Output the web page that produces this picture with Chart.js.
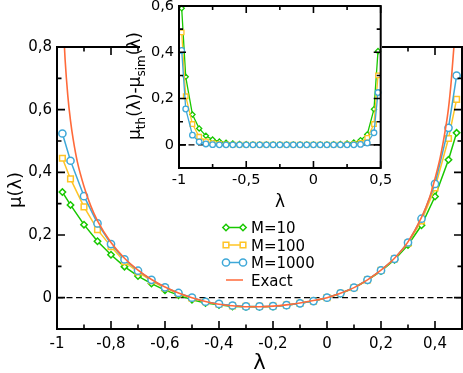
<!DOCTYPE html>
<html><head><meta charset="utf-8">
<script src="https://cdn.jsdelivr.net/npm/chart.js@4.4.1/dist/chart.umd.min.js"></script>
<style>
html,body{margin:0;padding:0;background:#fff;}
#wrap{position:relative;width:463px;height:373px;overflow:hidden;background:#fff;}
#main{position:absolute;left:0;top:0;}
#inset{position:absolute;left:120px;top:0;}
</style></head><body>
<div id="wrap"><canvas id="main" width="463" height="373"></canvas><canvas id="inset" width="280" height="215"></canvas></div>
<script>
// ---------------- data ----------------
const lambdas = [-0.98,-0.95,-0.90,-0.85,-0.80,-0.75,-0.70,-0.65,-0.60,-0.55,-0.50,-0.45,-0.40,-0.35,-0.30,-0.25,-0.20,-0.15,-0.10,-0.05,0,0.05,0.10,0.15,0.20,0.25,0.30,0.35,0.40,0.45,0.48];
const muM10   = [0.337,0.296,0.233,0.180,0.137,0.099,0.069,0.045,0.024,0.008,-0.007,-0.017,-0.023,-0.028,-0.029,-0.029,-0.028,-0.024,-0.018,-0.011,0,0.013,0.031,0.056,0.085,0.121,0.168,0.231,0.323,0.440,0.526];
const muM100  = [0.445,0.379,0.290,0.217,0.163,0.115,0.082,0.054,0.031,0.013,-0.002,-0.013,-0.021,-0.026,-0.028,-0.028,-0.027,-0.024,-0.018,-0.011,0,0.014,0.032,0.057,0.087,0.124,0.174,0.245,0.350,0.508,0.633];
const muM1000 = [0.524,0.437,0.324,0.237,0.171,0.122,0.086,0.057,0.033,0.015,0.000,-0.013,-0.020,-0.025,-0.028,-0.028,-0.027,-0.024,-0.018,-0.011,0,0.014,0.032,0.057,0.087,0.124,0.176,0.252,0.363,0.542,0.709];
const exactLambda = [-0.976,-0.97,-0.96,-0.95,-0.94,-0.925,-0.90,-0.875,-0.85,-0.80,-0.75,-0.70,-0.65,-0.60,-0.55,-0.50,-0.45,-0.40,-0.35,-0.30,-0.25,-0.20,-0.15,-0.10,-0.05,0,0.05,0.10,0.15,0.20,0.25,0.30,0.35,0.38,0.40,0.42,0.44,0.45,0.46,0.47,0.476];
const exactMu     = [0.86,0.76,0.645,0.565,0.505,0.435,0.355,0.293,0.245,0.176,0.126,0.088,0.058,0.034,0.015,0.0,-0.012,-0.021,-0.026,-0.029,-0.029,-0.027,-0.023,-0.017,-0.009,0,0.014,0.032,0.057,0.088,0.126,0.178,0.256,0.32,0.38,0.45,0.545,0.605,0.69,0.80,0.88];
const diffM10   = [0.590,0.294,0.131,0.071,0.039,0.023,0.014,0.009,0.006,0.004,0.003,0.002,0.002,0.002,0.002,0.002,0.002,0.002,0.002,0.002,0.002,0.002,0.002,0.003,0.004,0.006,0.010,0.020,0.045,0.154,0.405];
const diffM100  = [0.486,0.210,0.090,0.035,0.015,0.007,0.004,0.002,0.001,0.001,0.001,0.001,0.001,0.001,0.001,0.001,0.001,0.001,0.001,0.001,0.001,0.001,0.001,0.001,0.001,0.002,0.003,0.008,0.030,0.090,0.300];
const diffM1000 = [0.408,0.155,0.042,0.013,0.004,0.001,0,0,0,0,0,0,0,0,0,0,0,0,0,0,0,0,0,0,0,0,0,0.002,0.008,0.052,0.226];
const seriesNames = ['M=10','M=100','M=1000','Exact'];
const mainXTicks = [-1,-0.8,-0.6,-0.4,-0.2,0,0.2,0.4];
const mainXMinor = [-0.9,-0.7,-0.5,-0.3,-0.1,0.1,0.3];
const mainYTicks = [0,0.2,0.4,0.6,0.8];
const mainYMinor = [0.1,0.3,0.5,0.7];
const insetXTicks = [-1,-0.5,0,0.5];
const insetXMinor = [-0.75,-0.25,0.25];
const insetYTicks = [0,0.2,0.4,0.6];
const insetYMinor = [0.1,0.3,0.5];

// ---------------- styles ----------------
const COL = {g:'#18c800', y:'#ffc425', b:'#3ea8d8', o:'#ff6a3a'};
const FONT = 'DejaVu Sans';
const fmt = v => Math.abs(v) < 1e-9 ? '0' : String(Math.round(v*100)/100).replace('.', ',');
const pts = (xs, ys) => xs.map((x,i) => ({x, y: ys[i]}));

function mark(ctx, style, x, y, r, color, lw) {
  ctx.save(); ctx.fillStyle = '#fff'; ctx.strokeStyle = color; ctx.lineWidth = lw; ctx.beginPath();
  if (style === 'circle') ctx.arc(x, y, r, 0, 2*Math.PI);
  else if (style === 'rect') { const s = r/Math.SQRT2; ctx.rect(x-s, y-s, 2*s, 2*s); }
  else { ctx.moveTo(x-r, y); ctx.lineTo(x, y-r); ctx.lineTo(x+r, y); ctx.lineTo(x, y+r); ctx.closePath(); }
  ctx.fill(); ctx.stroke(); ctx.restore();
}

function framePlugin(major, minor, majLen, minLen) {
  return {
    id: 'frameTicks',
    afterDraw(chart) {
      const ctx = chart.ctx, a = chart.chartArea, xs = chart.scales.x, ys = chart.scales.y;
      ctx.save(); ctx.strokeStyle = '#000'; ctx.lineWidth = 1.6; ctx.lineCap = 'butt';
      ctx.beginPath();
      const doX = (vals, len) => vals.forEach(v => { const p = xs.getPixelForValue(v);
        ctx.moveTo(p, a.bottom); ctx.lineTo(p, a.bottom - len); ctx.moveTo(p, a.top); ctx.lineTo(p, a.top + len); });
      const doY = (vals, len) => vals.forEach(v => { const p = ys.getPixelForValue(v);
        ctx.moveTo(a.left, p); ctx.lineTo(a.left + len, p); ctx.moveTo(a.right, p); ctx.lineTo(a.right - len, p); });
      doX(major.x, majLen); doX(minor.x, minLen); doY(major.y, majLen); doY(minor.y, minLen);
      ctx.stroke();
      ctx.lineWidth = 2; ctx.strokeRect(a.left, a.top, a.right - a.left, a.bottom - a.top);
      ctx.restore();
    }
  };
}

function seriesDS(label, data, color, style, r, lw, order, clip) {
  return {label, data, showLine: true, borderColor: color, borderWidth: lw, backgroundColor: color,
    pointStyle: style, pointRadius: r, pointHoverRadius: r, pointBackgroundColor: '#fff',
    pointBorderColor: color, pointBorderWidth: lw, tension: 0, order, clip};
}

function axis(min, max, ticks, fontSize, pad, fitSize, isX) {
  return {
    type: 'linear', min, max,
    grid: {display: false, drawTicks: false},
    border: {display: false},
    ticks: {font: {family: FONT, size: fontSize}, color: '#000', padding: pad, maxRotation: 0, autoSkip: false,
      callback: v => fmt(v)},
    afterBuildTicks: s => { s.ticks = ticks.map(v => ({value: v})); },
    afterFit: s => {
      if (isX) s.height = fitSize; else s.width = fitSize;
      s.paddingLeft = 0; s.paddingRight = 0; s.paddingTop = 0; s.paddingBottom = 0;
    }
  };
}

// ---------------- main chart ----------------
const mainLabels = {
  id: 'mainLabels',
  afterDraw(chart) {
    const ctx = chart.ctx;
    ctx.save(); ctx.fillStyle = '#000';
    ctx.font = `21px "${FONT}"`; ctx.textAlign = 'center'; ctx.textBaseline = 'alphabetic';
    ctx.fillText('λ', 259.5, 369);
    ctx.save(); ctx.translate(20.5, 190); ctx.rotate(-Math.PI/2);
    ctx.font = `18px "${FONT}"`; ctx.fillText('μ(λ)', 0, 0); ctx.restore();
    // legend
    const rows = [
      {name: seriesNames[0], c: COL.g, s: 'rectRot', r: 3.2, y: 227.5},
      {name: seriesNames[1], c: COL.y, s: 'rect', r: 4.0, y: 245},
      {name: seriesNames[2], c: COL.b, s: 'circle', r: 3.6, y: 262.5},
      {name: seriesNames[3], c: COL.o, s: null, r: 0, y: 280}];
    ctx.font = `15px "${FONT}"`; ctx.textAlign = 'left';
    rows.forEach(rw => {
      ctx.strokeStyle = rw.c; ctx.lineWidth = 1.5;
      ctx.beginPath(); ctx.moveTo(226, rw.y); ctx.lineTo(243, rw.y); ctx.stroke();
      if (rw.s) { mark(ctx, rw.s, 226, rw.y, rw.r, rw.c, 1.5); mark(ctx, rw.s, 243, rw.y, rw.r, rw.c, 1.5); }
      ctx.fillStyle = '#000'; ctx.fillText(rw.name, 251, rw.y + 5.5);
    });
    ctx.restore();
  }
};

new Chart(document.getElementById('main'), {
  type: 'scatter',
  data: {datasets: [
    {label: 'zero', data: [{x: -1, y: 0}, {x: 0.5, y: 0}], showLine: true, borderColor: '#000', borderWidth: 1.2,
      borderDash: [6, 3.5], pointRadius: 0, order: 10},
    seriesDS(seriesNames[0], pts(lambdas, muM10), COL.g, 'rectRot', 3.2, 1.5, 4, false),
    seriesDS(seriesNames[1], pts(lambdas, muM100), COL.y, 'rect', 4.0, 1.5, 3, false),
    seriesDS(seriesNames[2], pts(lambdas, muM1000), COL.b, 'circle', 3.6, 1.5, 2, false),
    {label: seriesNames[3], data: pts(exactLambda, exactMu), showLine: true, borderColor: COL.o, borderWidth: 1.6,
      pointRadius: 0, cubicInterpolationMode: 'monotone', order: 1}
  ]},
  options: {
    responsive: false, animation: false, devicePixelRatio: 1,
    layout: {autoPadding: false, padding: {left: 0, right: 1, top: 47, bottom: 0}},
    plugins: {legend: {display: false}, tooltip: {enabled: false}},
    scales: {
      x: axis(-1, 0.5, mainXTicks, 15, 6, 44, true),
      y: axis(-0.1, 0.8, mainYTicks, 15, 5, 57, false)
    }
  },
  plugins: [framePlugin({x: mainXTicks, y: mainYTicks}, {x: mainXMinor, y: mainYMinor}, 8, 4.5), mainLabels]
});

// ---------------- inset chart ----------------
const insetBg = {
  id: 'insetBg',
  beforeDraw(chart) {
    const ctx = chart.ctx; ctx.save(); ctx.fillStyle = '#fff'; ctx.fillRect(20, 0, 242, 210); ctx.restore();
  },
  afterDraw(chart) {
    const ctx = chart.ctx;
    ctx.save(); ctx.fillStyle = '#000';
    ctx.font = `17px "${FONT}"`; ctx.textAlign = 'center'; ctx.textBaseline = 'alphabetic';
    ctx.fillText('λ', 160, 207);
    // rotated y title with subscripts
    const parts = [{t: 'μ'}, {t: 'th', sub: true}, {t: '(λ)-μ'}, {t: 'sim', sub: true}, {t: '(λ)'}];
    const mainF = `17px "${FONT}"`, subF = `12px "${FONT}"`;
    let total = 0;
    parts.forEach(p => { ctx.font = p.sub ? subF : mainF; p.w = ctx.measureText(p.t).width; total += p.w; });
    ctx.translate(19.5, 86); ctx.rotate(-Math.PI/2); ctx.textAlign = 'left';
    let x = -total/2;
    parts.forEach(p => { ctx.font = p.sub ? subF : mainF; ctx.fillText(p.t, x, p.sub ? 5 : 0); x += p.w; });
    ctx.restore();
  }
};

new Chart(document.getElementById('inset'), {
  type: 'scatter',
  data: {datasets: [
    {label: 'zero', data: [{x: -1, y: 0}, {x: 0.5, y: 0}], showLine: true, borderColor: '#000', borderWidth: 1.2,
      borderDash: [6, 3.5], pointRadius: 0, order: 10},
    seriesDS(seriesNames[0], pts(lambdas, diffM10), COL.g, 'rectRot', 2.6, 1.3, 4, false),
    seriesDS(seriesNames[1], pts(lambdas, diffM100), COL.y, 'rect', 3.2, 1.3, 3, false),
    seriesDS(seriesNames[2], pts(lambdas, diffM1000), COL.b, 'circle', 2.8, 1.3, 2, false)
  ]},
  options: {
    responsive: false, animation: false, devicePixelRatio: 1,
    layout: {autoPadding: false, padding: {left: 0, right: 19.3, top: 6, bottom: 0}},
    plugins: {legend: {display: false}, tooltip: {enabled: false}},
    scales: {
      x: axis(-1, 0.5, insetXTicks, 14.5, 4, 47, true),
      y: axis(-0.1, 0.6, insetYTicks, 14.5, 5, 59, false)
    }
  },
  plugins: [insetBg, framePlugin({x: insetXTicks, y: insetYTicks}, {x: insetXMinor, y: insetYMinor}, 7, 4)]
});
</script>
</body></html>
